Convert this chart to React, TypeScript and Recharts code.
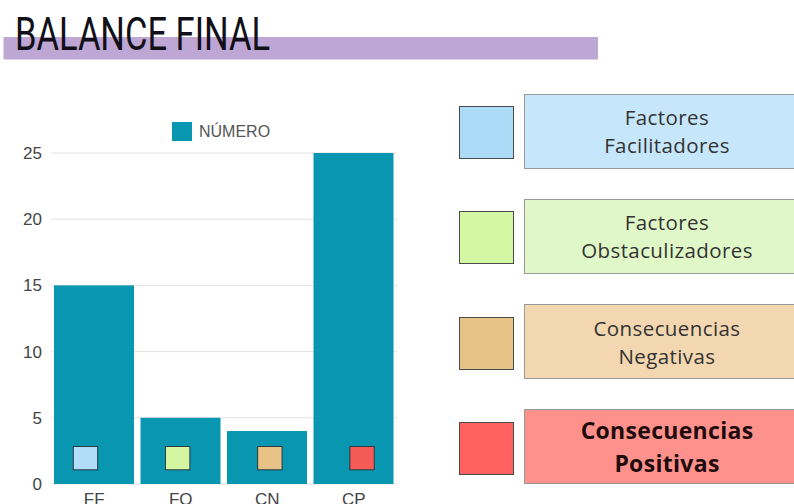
import React from "react";
import { BarChart, Bar, XAxis, YAxis, CartesianGrid } from "recharts";

const categories = ["FF", "FO", "CN", "CP"];
const values = [15, 5, 4, 25];
const yTicks = [0, 5, 10, 15, 20, 25];
const seriesName = "NÚMERO";
const fullNames = [
  ["Factores", "Facilitadores"],
  ["Factores", "Obstaculizadores"],
  ["Consecuencias", "Negativas"],
  ["Consecuencias", "Positivas"],
];

const BAR_COLOR = "#0896b0";
const markerColors = ["#b1ddf9", "#d5f6a0", "#e8c286", "#f55b56"];
const keySquareColors = ["#abdbf7", "#d4f7a4", "#e8c388", "#ff6261"];
const boxColors = ["#c6e7fb", "#e0f8c8", "#f2d7b0", "#ff918c"];

const data = categories.map((c, i) => ({ name: c, value: values[i] }));

const FONT = "'Liberation Sans', Arial, sans-serif";

const BarWithMarker = (props: any) => {
  const { x, y, width, height, index } = props;
  const bottom = y + height;
  const cx = x + width / 2 + (index - 1.5) * 5.7;
  return (
    <g>
      <rect x={x} y={y} width={width} height={height} fill={BAR_COLOR} />
      <rect
        x={cx - 12.2}
        y={bottom - 37.5}
        width={24.4}
        height={23.3}
        fill={markerColors[index]}
        stroke="#2a3a40"
        strokeWidth={1}
      />
    </g>
  );
};

export default function App() {
  return (
    <div
      style={{
        position: "absolute",
        left: 0,
        top: 0,
        width: 794,
        height: 504,
        overflow: "hidden",
        background: "#fff",
      }}
    >
      <svg width={794} height={70} style={{ position: "absolute", left: 0, top: 0 }}>
        <rect x={3.5} y={37} width={594.5} height={22.5} fill="#bfa7d5" />
        <text
          x={15}
          y={50}
          fontFamily="Roboto, 'DejaVu Sans', sans-serif"
          fontSize={46}
          fill="#111018"
          textLength={255}
          lengthAdjust="spacingAndGlyphs"
        >
          BALANCE FINAL
        </text>
      </svg>

      <div style={{ position: "absolute", left: 0, top: 0 }}>
        <BarChart
          width={420}
          height={504}
          data={data}
          margin={{ top: 153, right: 23, left: 0, bottom: 0 }}
        >
          <CartesianGrid vertical={false} stroke="#e2e2e2" />
          <XAxis
            dataKey="name"
            axisLine={false}
            tickLine={false}
            tickSize={0}
            tickMargin={9}
            height={20}
            tick={{ fill: "#444", fontSize: 17, fontFamily: FONT }}
            interval={0}
          />
          <YAxis
            domain={[0, 25]}
            ticks={yTicks}
            axisLine={false}
            tickLine={false}
            tickSize={0}
            tickMargin={9}
            width={51}
            tick={{ fill: "#444", fontSize: 17, fontFamily: FONT }}
          />
          <Bar
            dataKey="value"
            name={seriesName}
            barSize={80}
            shape={BarWithMarker}
            isAnimationActive={false}
          />
        </BarChart>
      </div>

      <div
        style={{
          position: "absolute",
          left: 172,
          top: 122,
          display: "flex",
          alignItems: "center",
          fontFamily: FONT,
        }}
      >
        <div style={{ width: 20, height: 19, background: BAR_COLOR, marginRight: 7 }} />
        <span style={{ fontSize: 16, color: "#555", lineHeight: "19px" }}>{seriesName}</span>
      </div>

      {fullNames.map((lines, i) => {
        const top = 93.5 + i * 105.3;
        const bold = i === 3;
        return (
          <React.Fragment key={i}>
            <div
              style={{
                position: "absolute",
                left: 459,
                top: top + 12.5,
                width: 53,
                height: 51,
                background: keySquareColors[i],
                border: "1px solid #4a4a4a",
                boxSizing: "content-box",
              }}
            />
            <div
              style={{
                position: "absolute",
                left: 524,
                top: top,
                width: 284,
                height: 73,
                background: boxColors[i],
                border: "1px solid #9a9a9a",
                display: "flex",
                flexDirection: "column",
                justifyContent: "center",
                alignItems: "center",
                fontFamily: "'Open Sans', sans-serif",
                fontSize: bold ? 23 : 20.5,
                fontWeight: bold ? 700 : 400,
                lineHeight: bold ? "33px" : "28px",
                letterSpacing: bold ? 0.3 : 0.4,
                color: bold ? "#1e0c0c" : "#333",
                textAlign: "center",
              }}
            >
              <div>{lines[0]}</div>
              <div>{lines[1]}</div>
            </div>
          </React.Fragment>
        );
      })}
    </div>
  );
}
